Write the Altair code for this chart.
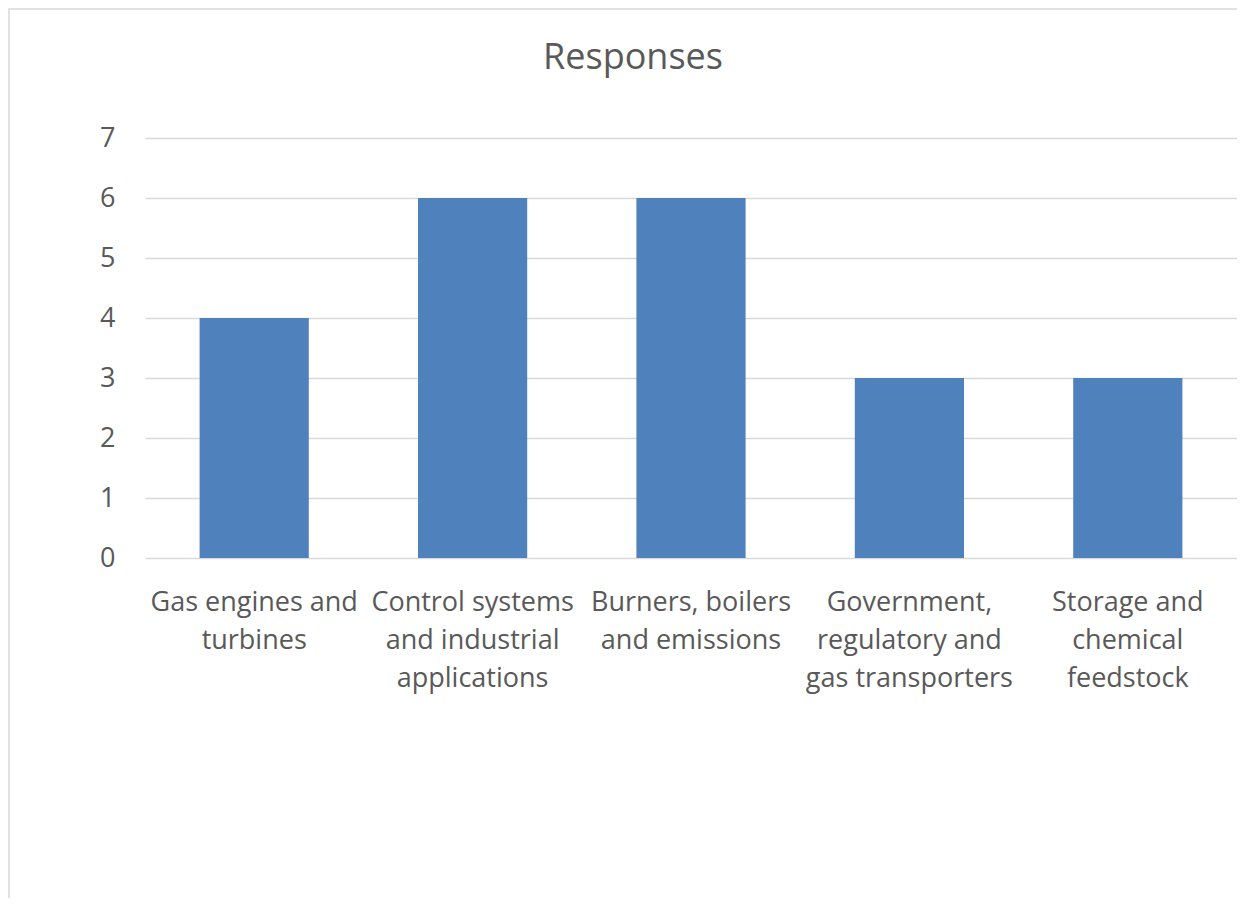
import altair as alt
import pandas as pd

categories = [
    "Gas engines and\nturbines",
    "Control systems\nand industrial\napplications",
    "Burners, boilers\nand emissions",
    "Government,\nregulatory and\ngas transporters",
    "Storage and\nchemical\nfeedstock",
]
responses = [4, 6, 6, 3, 3]
y_ticks = [0, 1, 2, 3, 4, 5, 6, 7]

df = pd.DataFrame({"category": categories, "responses": responses})

FONT = "Open Sans"
GRAY = "#595959"
GRID = "#d9d9d9"

bars = alt.Chart(df).mark_bar(color="#4f81bd").encode(
    x=alt.X(
        "category:N",
        sort=categories,
        title=None,
        scale=alt.Scale(paddingInner=0.5, paddingOuter=0.25),
        axis=alt.Axis(
            labelExpr="split(datum.label, '\\n')",
            labelAngle=0,
            labelFont=FONT,
            labelFontSize=27,
            labelColor=GRAY,
            labelLineHeight=38,
            labelPadding=31,
            labelBaseline="top",
            labelLimit=0,
            ticks=False,
            domain=False,
            grid=False,
        ),
    ),
    y=alt.Y(
        "responses:Q",
        title=None,
        scale=alt.Scale(domain=[0, 7], nice=False),
        axis=alt.Axis(
            values=y_ticks,
            labelFont=FONT,
            labelFontSize=27,
            labelColor=GRAY,
            labelPadding=30,
            ticks=False,
            domain=False,
            grid=True,
            gridColor=GRID,
            gridWidth=1.3,
        ),
    ),
)

border = alt.Chart(pd.DataFrame({"a": [0]})).mark_rect(
    fill=None, stroke=GRID, strokeWidth=1.5, clip=False
).encode(
    x=alt.value(-136),
    x2=alt.value(1130),
    y=alt.value(-129),
    y2=alt.value(900),
)

chart = alt.layer(border, bars).properties(
    width=1092,
    height=420,
    padding={"left": 137, "top": 130, "right": 0, "bottom": 340},
    autosize=alt.AutoSizeParams(type="none"),
    title=alt.TitleParams(
        "Responses",
        font=FONT,
        fontSize=36,
        fontWeight="normal",
        color=GRAY,
        anchor="middle",
        baseline="bottom",
        dx=-58,
        offset=-105,
    ),
).configure_view(stroke=None)

chart.save("out.html", embed_options={"renderer": "svg", "actions": False})
